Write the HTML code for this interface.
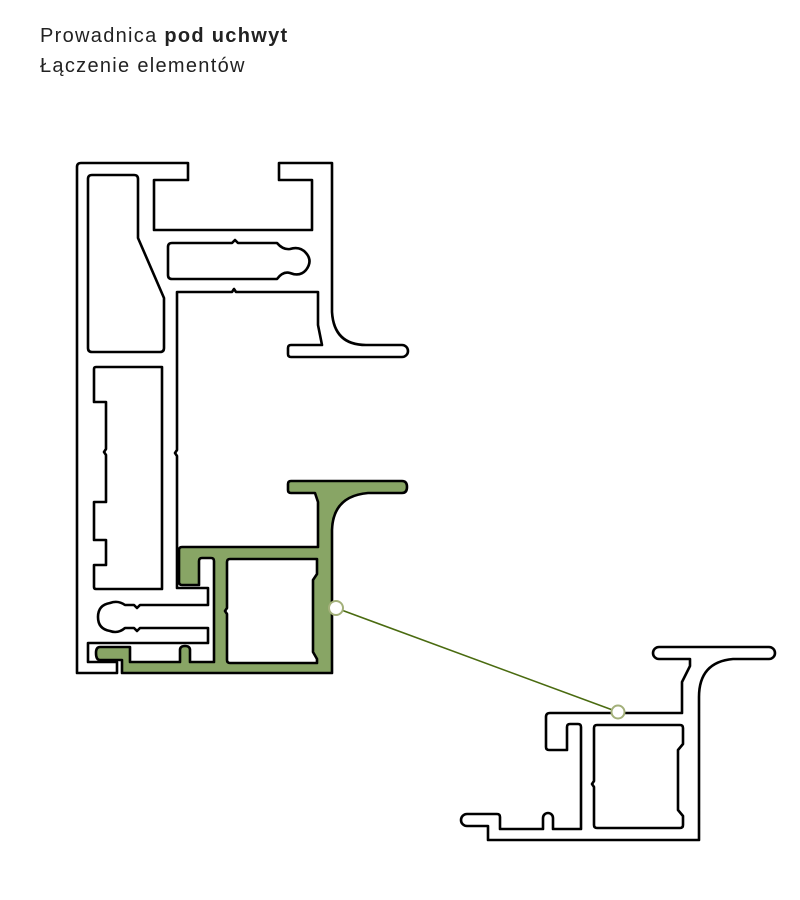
<!DOCTYPE html>
<html><head><meta charset="utf-8"><style>
body{margin:0;background:#fff;width:800px;height:900px;overflow:hidden}
.t{position:absolute;left:40px;font-family:"Liberation Sans",sans-serif;font-size:20px;color:#222;letter-spacing:1.3px}
</style></head><body>
<div class="t" style="top:25px">Prowadnica <b>pod uchwyt</b></div>
<div class="t" style="top:55px">Łączenie elementów</div>
<svg width="800" height="900" style="position:absolute;left:0;top:0" fill="none" stroke="#000" stroke-width="2.6" stroke-linejoin="round">
<path fill="#fff" fill-rule="evenodd" d="M81,163 H188 V180 H154 V230 H312 V180 H279 V163 H332 V312 Q334,345 366,345 H402 a6,6 0 0 1 0,12 H291 Q288,357 288,354 V348 Q288,345 291,345 H322 L320,335 L318,325 V292 H236 L234,289 L232,292 H177 V450 L175,453 L177,456 V588 H208 V605 H140 L137,608 L134,605 H125 Q118,600 110,603 Q98,605 98,617 Q98,629 110,631 Q118,634 125,628 H134 L137,631 L140,628 H208 V643 H88 V662 H117 V673 H77 V167 Q77,163 81,163 Z
M92,175 H134 Q138,175 138,179 V238 L164,298 V348 Q164,352 160,352 H92 Q88,352 88,348 V179 Q88,175 92,175 Z
M172,243 H232 L235,240 L238,243 H277 Q283,250 290,249 Q300,246 306,253 Q313,261 306,270 Q300,277 290,273 Q283,271 277,279 H172 Q168,279 168,275 V247 Q168,243 172,243 Z
M96,367 H162 V589 H96 Q94,589 94,587 V565 H106 V540 H94 V502 H106 V455 L104,452 L106,449 V402 H94 V369 Q94,367 96,367 Z"/>
<path fill="#88a565" fill-rule="evenodd" d="M182,547 H318 V502 L315,493 H291 Q288,493 288,490 V484 Q288,481 291,481 H402 Q407,481 407,487 Q407,493 402,493 H368 Q333,496 332,530 V673 H122 V660 H100 Q96,660 96,653 Q96,647 100,647 H130 V662 H180 V650 Q180,646 185,646 Q190,646 190,650 V662 H214 V561 Q214,558 211,558 H202 Q199,558 199,561 V585 H182 Q179,585 179,582 V550 Q179,547 182,547 Z
M230,559 H317 V574 L313,580 V652 L317,659 V663 H230 Q227,663 227,660 V614 L225,611 L227,608 V562 Q227,559 230,559 Z"/>
<path fill="#fff" fill-rule="evenodd" d="M659,647 H769 a6,6 0 0 1 0,12 H733 Q699,662 699,697 V840 H488 V826 H467 a6,6 0 0 1 0,-12 H497 Q500,814 500,817 V829 H543 V818 a5,5 0 0 1 10,0 V829 H581 V727 Q581,724 578,724 H570 Q567,724 567,727 V750 H549 Q546,750 546,747 V717 Q546,713 550,713 H682 V682 L690,666 V659 H659 a6,6 0 0 1 0,-12 Z
M597,725 H680 Q683,725 683,728 V744 L678,750 V810 L683,816 V825 Q683,828 680,828 H597 Q594,828 594,825 V787 L592,784 L594,781 V728 Q594,725 597,725 Z"/>
<line x1="336" y1="608" x2="618" y2="712" stroke="#4a6b10" stroke-width="1.6"/>
<circle cx="336" cy="608" r="7" fill="#fff" stroke="#a3b07a" stroke-width="2"/>
<circle cx="618" cy="712" r="6.5" fill="#fff" stroke="#a3b07a" stroke-width="2"/>
</svg>
</body></html>
